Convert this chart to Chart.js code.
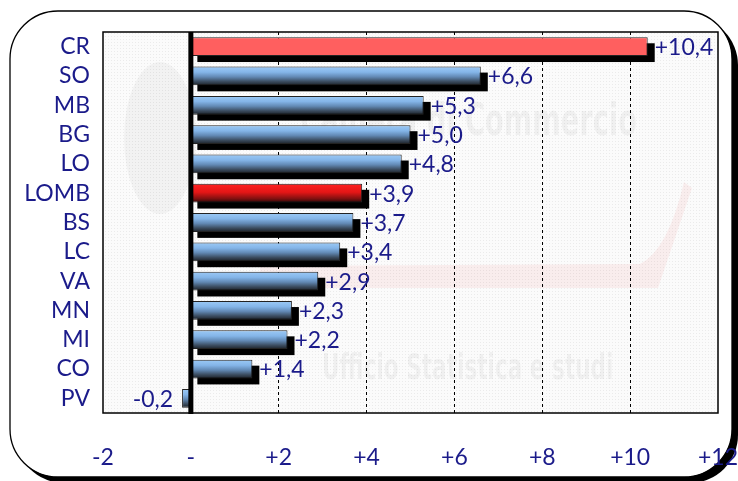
<!DOCTYPE html>
<html>
<head>
<meta charset="utf-8">
<script src="https://cdn.jsdelivr.net/npm/chart.js@4.4.1/dist/chart.umd.min.js"></script>
<style>
  html, body { margin: 0; padding: 0; background: #fff; }
  #wrap { width: 738px; height: 481px; position: relative; }
</style>
</head>
<body>
<div id="wrap"><canvas id="chart-one"></canvas></div>
<script>
// data
const categories = ['CR', 'SO', 'MB', 'BG', 'LO', 'LOMB', 'BS', 'LC', 'VA', 'MN', 'MI', 'CO', 'PV'];
const variations = [10.4, 6.6, 5.3, 5.0, 4.8, 3.9, 3.7, 3.4, 2.9, 2.3, 2.2, 1.4, -0.2];
const xTicks = [-2, 0, 2, 4, 6, 8, 10, 12];

const NAVY = '#1b1b8a';
const FONT = 'Lato, "Open Sans", sans-serif';
const FONT_SIZE = 23;
const BAR_PCT = 0.64;

const BLUE_STOPS = [[0, '#9ccaf6'], [0.3, '#84b5e8'], [0.55, '#6289b4'], [0.8, '#3b4c5f'], [1, '#1c2127']];
const RED_STOPS = [[0, '#ff2222'], [0.45, '#e41616'], [0.8, '#7e1010'], [1, '#2a0707']];

function fmt(v) {
  const s = Math.abs(v).toFixed(1).replace('.', ',');
  return (v < 0 ? '-' : '+') + s;
}

function barFill(c) {
  const chart = c.chart;
  const ys = chart.scales.y;
  const i = c.dataIndex;
  if (i === undefined || !ys || !chart.chartArea) return '#7aaee3';
  if (categories[i] === 'CR') return '#ff5f5f';
  const mid = ys.getPixelForValue(i);
  const half = ys.height / categories.length * BAR_PCT / 2;
  const g = chart.ctx.createLinearGradient(0, mid - half, 0, mid + half);
  const stops = categories[i] === 'LOMB' ? RED_STOPS : BLUE_STOPS;
  stops.forEach(([o, col]) => g.addColorStop(o, col));
  return g;
}

function dotPattern(ctx) {
  const p = document.createElement('canvas');
  p.width = 3; p.height = 3;
  const pc = p.getContext('2d');
  pc.fillStyle = '#fbfbfb';
  pc.fillRect(0, 0, 3, 3);
  pc.fillStyle = '#ebebeb';
  pc.fillRect(0, 0, 1, 1);
  return ctx.createPattern(p, 'repeat');
}

function condensedText(ctx, text, x, y, size, squeeze) {
  ctx.save();
  ctx.translate(x, y);
  ctx.scale(squeeze, 1);
  ctx.font = 'bold ' + size + 'px "DejaVu Sans", sans-serif';
  ctx.fillText(text, 0, 0);
  ctx.restore();
}

// rounded frame, plot background, faded watermark
const backdrop = {
  id: 'backdrop',
  beforeDraw(chart) {
    const { ctx, chartArea: a } = chart;
    ctx.save();
    ctx.fillStyle = '#000';
    ctx.beginPath(); ctx.roundRect(16, 17, 722, 466, 48); ctx.fill();
    ctx.fillStyle = '#fff';
    ctx.beginPath(); ctx.roundRect(10, 11, 722, 466, 48); ctx.fill();
    ctx.lineWidth = 1.3; ctx.strokeStyle = '#000'; ctx.stroke();

    ctx.fillStyle = dotPattern(ctx);
    ctx.fillRect(a.left, a.top, a.width, a.height);

    // watermark
    ctx.beginPath();
    ctx.ellipse(160, 138, 36, 76, 0, 0, Math.PI * 2);
    ctx.fillStyle = 'rgba(0,0,0,0.035)';
    ctx.fill();
    ctx.beginPath();
    ctx.moveTo(260, 266); ctx.lineTo(640, 264);
    ctx.quadraticCurveTo(668, 250, 684, 182);
    ctx.lineTo(692, 188);
    ctx.lineTo(658, 288); ctx.lineTo(260, 288);
    ctx.closePath();
    ctx.fillStyle = 'rgba(225,60,60,0.07)';
    ctx.fill();
    ctx.fillStyle = 'rgba(0,0,0,0.045)';
    ctx.textBaseline = 'middle';
    ctx.textAlign = 'left';
    condensedText(ctx, 'Camera di Commercio', 300, 124, 44, 0.62);
    condensedText(ctx, 'Ufficio Statistica e studi', 322, 370, 36, 0.6);
    ctx.restore();
  }
};

// black drop shadow under the bars
const barShadow = {
  id: 'barShadow',
  beforeDatasetsDraw(chart) {
    const ctx = chart.ctx;
    const meta = chart.getDatasetMeta(0);
    ctx.save();
    ctx.fillStyle = '#000';
    meta.data.forEach((bar, i) => {
      if (variations[i] <= 0) return;
      const { x, y, base, height } = bar.getProps(['x', 'y', 'base', 'height'], true);
      ctx.fillRect(base + 6, y - height / 2 + 6, x - base + 1, height);
    });
    ctx.restore();
  }
};

// zero line, plot border and value labels
const overlay = {
  id: 'overlay',
  afterDatasetsDraw(chart) {
    const { ctx, chartArea: a, scales } = chart;
    ctx.save();
    const x0 = scales.x.getPixelForValue(0);
    ctx.fillStyle = '#000';
    ctx.fillRect(x0 - 2.5, a.top, 5, a.height + 1);

    ctx.lineWidth = 1.5;
    ctx.strokeStyle = '#000';
    ctx.strokeRect(a.left, a.top, a.width, a.height);

    ctx.font = FONT_SIZE + 'px ' + FONT;
    ctx.fillStyle = NAVY;
    ctx.textBaseline = 'middle';
    chart.getDatasetMeta(0).data.forEach((bar, i) => {
      const v = variations[i];
      if (v >= 0) {
        ctx.textAlign = 'left';
        ctx.fillText(fmt(v), bar.x + 7, bar.y + 1);
      } else {
        ctx.textAlign = 'right';
        ctx.fillText(fmt(v), bar.x - 9, bar.y + 1);
      }
    });
    ctx.restore();
  }
};

const ctx = document.getElementById('chart-one').getContext('2d');

new Chart(ctx, {
  type: 'bar',
  data: {
    labels: categories,
    datasets: [{
      data: variations,
      backgroundColor: barFill,
      borderColor: '#222',
      borderWidth: 1,
      borderSkipped: false,
      barPercentage: BAR_PCT,
      categoryPercentage: 1
    }]
  },
  options: {
    indexAxis: 'y',
    responsive: true,
    maintainAspectRatio: false,
    animation: false,
    layout: { padding: { top: 32, right: 20, left: 0, bottom: 0 } },
    plugins: {
      legend: { display: false },
      tooltip: { enabled: false }
    },
    scales: {
      x: {
        min: -2,
        max: 12,
        afterBuildTicks: s => { s.ticks = xTicks.map(v => ({ value: v })); },
        afterFit: s => { s.height = 68; s.paddingLeft = 0; s.paddingRight = 0; },
        ticks: {
          padding: 31,
          color: NAVY,
          font: { family: FONT, size: FONT_SIZE },
          callback: v => v === 0 ? '-' : (v > 0 ? '+' + v : String(v))
        },
        grid: {
          drawTicks: false,
          lineWidth: 1,
          color: c => (c.tick && [-2, 0, 12].includes(c.tick.value)) ? 'rgba(0,0,0,0)' : '#000'
        },
        border: { display: false, dash: [3, 3] }
      },
      y: {
        afterFit: s => { s.width = 103; s.paddingTop = 0; s.paddingBottom = 0; },
        ticks: {
          autoSkip: false,
          padding: 13,
          color: NAVY,
          font: { family: FONT, size: FONT_SIZE }
        },
        grid: { display: false, drawTicks: false },
        border: { display: false }
      }
    }
  },
  plugins: [backdrop, barShadow, overlay]
});
</script>
</body>
</html>
